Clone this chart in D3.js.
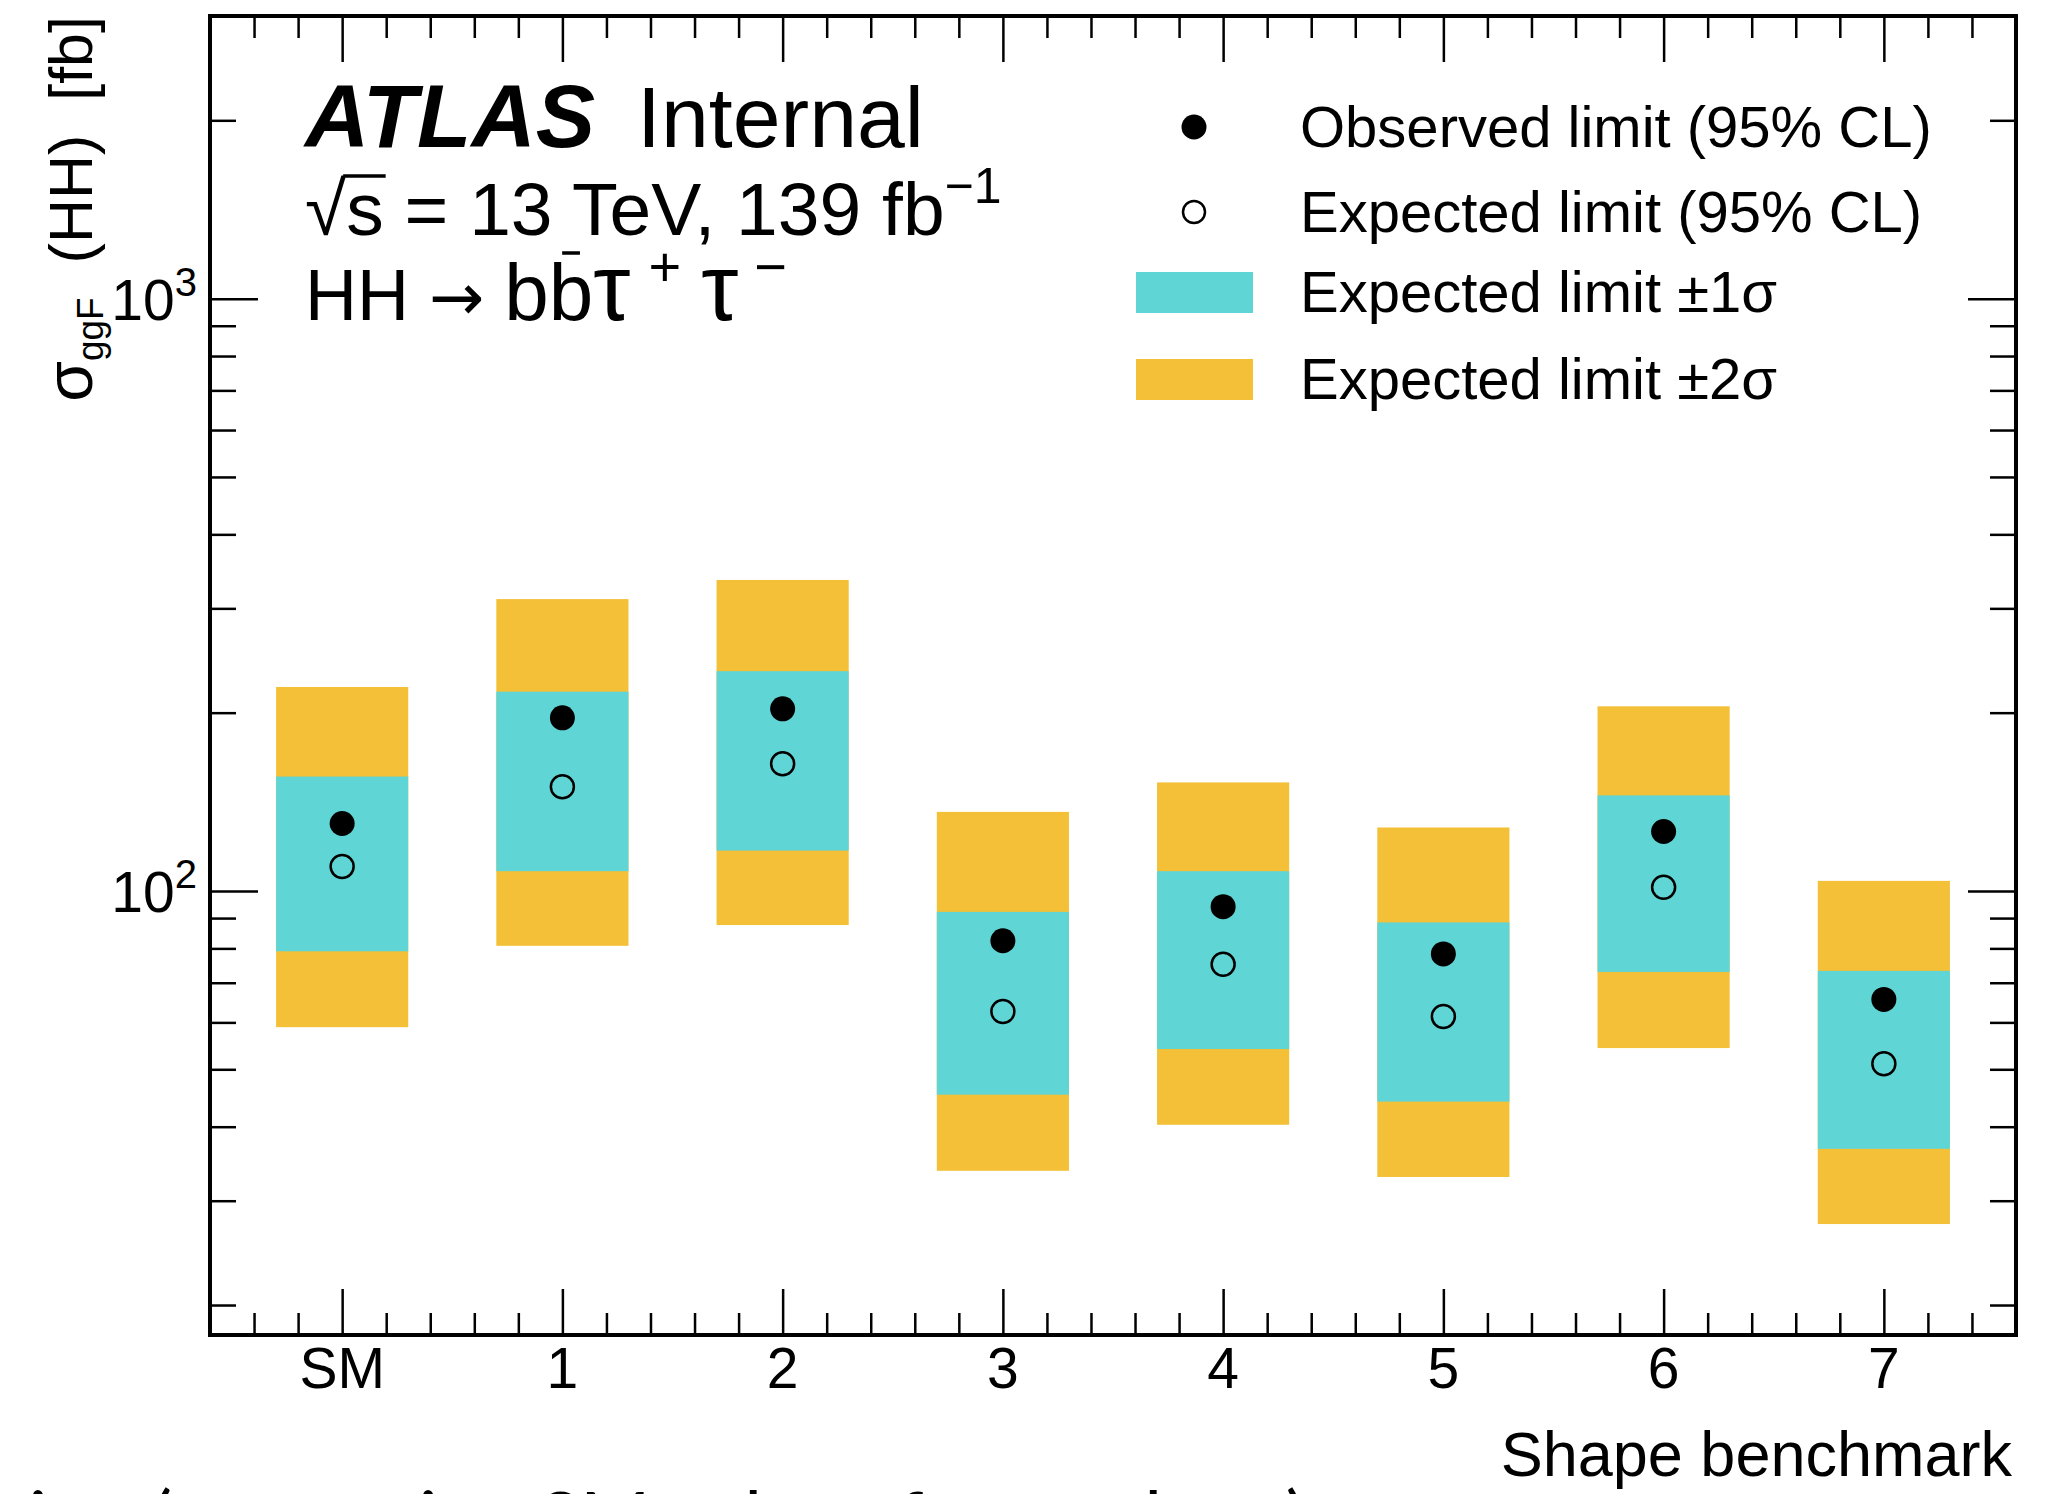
<!DOCTYPE html>
<html lang="en">
<head>
  <meta charset="UTF-8">
  <title>HH -> bbtautau shape benchmark limits</title>
  <script src="https://d3js.org/d3.v7.min.js"></script>
  <style>
    body { margin: 0; background: white; }
    svg { display: block; font-family: "Liberation Sans", Arial, Helvetica, sans-serif; }
    .tick line { stroke: black; stroke-width: 2.5px; }
    .domain { display: none; }
    .frame { fill: none; stroke: black; stroke-width: 4px; }
  </style>
</head>
<body>
<svg id="chart" width="2053" height="1494"></svg>
<script>
  // values (fb)
  const benchmarks = ["SM", "1", "2", "3", "4", "5", "6", "7"];
  const observed  = [130, 196, 203, 82.4, 94.1, 78.3, 126, 65.6];
  const expected  = [110, 150, 164, 62.6, 75.2, 61.4, 101.5, 51.1];
  const expMinus1 = [79.1, 108, 117, 45.3, 54.1, 44.1, 73.0, 36.7];
  const expPlus1  = [156, 217, 235, 92.2, 108, 88.5, 145, 73.3];
  const expMinus2 = [58.9, 80.8, 87.6, 33.7, 40.3, 32.9, 54.3, 27.4];
  const expPlus2  = [221, 311, 335, 136, 152.5, 128, 205, 104];

  const yMajor = [100, 1000];
  const yMinor = [20, 30, 40, 50, 60, 70, 80, 90, 200, 300, 400, 500, 600, 700, 800, 900, 2000];
  const legendLabels = ["Observed limit (95% CL)", "Expected limit (95% CL)", "Expected limit \u00b11\u03c3", "Expected limit \u00b12\u03c3"];

  const cyan = "#60d5d5";
  const yellow = "#f3c037";

  const svg = d3.select("#chart");
  const plot = { left: 210, top: 16, right: 2016, bottom: 1335 };

  const x = d3.scaleLinear().domain([-0.6, 7.6]).range([plot.left, plot.right]);
  const y = d3.scaleLog().domain([17.8, 3000]).range([plot.bottom, plot.top]);
  const half = 0.3;

  const xMinor = d3.range(-2, 38).filter(i => i % 5 !== 0).map(i => i * 0.2);
  const xMajor = d3.range(benchmarks.length);

  // bands
  svg.append("g").selectAll("rect").data(benchmarks).join("rect")
     .attr("x", (d, i) => x(i - half))
     .attr("width", (d, i) => x(i + half) - x(i - half))
     .attr("y", (d, i) => y(expPlus2[i]))
     .attr("height", (d, i) => y(expMinus2[i]) - y(expPlus2[i]))
     .attr("fill", yellow);

  svg.append("g").selectAll("rect").data(benchmarks).join("rect")
     .attr("x", (d, i) => x(i - half))
     .attr("width", (d, i) => x(i + half) - x(i - half))
     .attr("y", (d, i) => y(expPlus1[i]))
     .attr("height", (d, i) => y(expMinus1[i]) - y(expPlus1[i]))
     .attr("fill", cyan);

  // markers
  svg.append("g").selectAll("circle").data(expected).join("circle")
     .attr("cx", (d, i) => x(i)).attr("cy", d => y(d)).attr("r", 11.5)
     .attr("fill", "none").attr("stroke", "black").attr("stroke-width", 2.5);

  svg.append("g").selectAll("circle").data(observed).join("circle")
     .attr("cx", (d, i) => x(i)).attr("cy", d => y(d)).attr("r", 12.5)
     .attr("fill", "black");

  // ticks, all pointing inward
  function ticks(axis, pos, values, size) {
    svg.append("g").attr("transform", pos)
       .call(axis.tickValues(values).tickSize(-size).tickFormat(""));
  }
  ticks(d3.axisLeft(y), `translate(${plot.left},0)`, yMinor, 26);
  ticks(d3.axisLeft(y), `translate(${plot.left},0)`, yMajor, 48);
  ticks(d3.axisRight(y), `translate(${plot.right},0)`, yMinor, 26);
  ticks(d3.axisRight(y), `translate(${plot.right},0)`, yMajor, 48);
  ticks(d3.axisBottom(x), `translate(0,${plot.bottom})`, xMinor, 22);
  ticks(d3.axisBottom(x), `translate(0,${plot.bottom})`, xMajor, 46);
  ticks(d3.axisTop(x), `translate(0,${plot.top})`, xMinor, 22);
  ticks(d3.axisTop(x), `translate(0,${plot.top})`, xMajor, 46);

  svg.append("rect").attr("class", "frame")
     .attr("x", plot.left).attr("y", plot.top)
     .attr("width", plot.right - plot.left).attr("height", plot.bottom - plot.top);

  // tick labels
  svg.append("g").selectAll("text").data(benchmarks).join("text")
     .attr("x", (d, i) => x(i)).attr("y", 1388)
     .attr("text-anchor", "middle").attr("font-size", 57)
     .text(d => d);

  const yLab = svg.append("g").selectAll("text").data(yMajor).join("text")
     .attr("x", plot.left - 13).attr("y", d => y(d) + 21)
     .attr("text-anchor", "end").attr("font-size", 57);
  yLab.append("tspan").text("10");
  yLab.append("tspan").attr("font-size", 40).attr("dy", -24).text(d => Math.round(Math.log10(d)));

  // axis titles
  svg.append("text").attr("x", 2012).attr("y", 1476)
     .attr("text-anchor", "end").attr("font-size", 63)
     .text("Shape benchmark");

  const yTitle = svg.append("text")
     .attr("transform", "translate(92,16) rotate(-90)")
     .attr("text-anchor", "end").attr("font-size", 61)
     .attr("xml:space", "preserve");
  yTitle.append("tspan").attr("font-size", 66).text("\u03c3");
  yTitle.append("tspan").attr("font-size", 37).attr("dy", 11).text("ggF");
  yTitle.append("tspan").attr("dy", -11).text("  (HH)  [fb]");

  // ATLAS label
  const atlas = svg.append("text").attr("x", 305).attr("y", 147).attr("font-size", 89);
  atlas.append("tspan").attr("font-weight", "bold").attr("font-style", "italic").text("ATLAS");
  atlas.append("tspan").attr("dx", 42).attr("font-size", 86).text("Internal");

  const energy = svg.append("text").attr("x", 305).attr("y", 235).attr("font-size", 75);
  energy.append("tspan").text("\u221a");
  energy.append("tspan").text("s = 13 TeV, 139 fb");
  energy.append("tspan").attr("font-size", 50).attr("dy", -32).text("\u22121");
  const sExt = energy.node().getExtentOfChar(1);
  const rExt = energy.node().getExtentOfChar(0);
  svg.append("line")
     .attr("x1", rExt.x + rExt.width - 3).attr("x2", sExt.x + sExt.width + 2)
     .attr("y1", 235 - 59).attr("y2", 235 - 59)
     .attr("stroke", "black").attr("stroke-width", 3.5);

  const decay = svg.append("text").attr("x", 305).attr("y", 320).attr("font-size", 72);
  decay.append("tspan").text("HH ");
  decay.append("tspan").attr("font-family", "DejaVu Sans").attr("font-size", 66).text("\u2192");
  decay.append("tspan").attr("dx", 20).attr("font-size", 80).text("bb");
  decay.append("tspan").attr("font-size", 94).text("\u03c4");
  decay.append("tspan").attr("font-size", 56).attr("dx", 18).attr("dy", -34).text("+");
  decay.append("tspan").attr("font-size", 94).attr("dy", 34).attr("dx", 20).text("\u03c4");
  decay.append("tspan").attr("font-size", 56).attr("dx", 16).attr("dy", -34).text("\u2212");
  const bExt = decay.node().getExtentOfChar(5);
  svg.append("line")
     .attr("x1", bExt.x + bExt.width * 0.3).attr("x2", bExt.x + bExt.width * 0.7)
     .attr("y1", 320 - 67).attr("y2", 320 - 67)
     .attr("stroke", "black").attr("stroke-width", 3.5);

  // legend
  const legend = svg.append("g");
  const rowY = [127, 212, 292, 379];
  legend.append("circle").attr("cx", 1194).attr("cy", rowY[0]).attr("r", 12.5).attr("fill", "black");
  legend.append("circle").attr("cx", 1194).attr("cy", rowY[1]).attr("r", 11)
        .attr("fill", "none").attr("stroke", "black").attr("stroke-width", 2.5);
  legend.append("rect").attr("x", 1136).attr("y", rowY[2] - 20).attr("width", 117).attr("height", 41).attr("fill", cyan);
  legend.append("rect").attr("x", 1136).attr("y", rowY[3] - 20).attr("width", 117).attr("height", 41).attr("fill", yellow);
  legend.selectAll("text").data(legendLabels).join("text")
        .attr("x", 1300).attr("y", (d, i) => rowY[i] + 20)
        .attr("font-size", 58).text(d => d);

  // slide text cut off at the bottom of the screenshot
  svg.append("text").attr("x", 0).attr("y", 1546)
     .attr("font-family", "Lato, 'Open Sans', sans-serif").attr("font-size", 76)
     .text("tion (comparing SM values from others)");
</script>
</body>
</html>
